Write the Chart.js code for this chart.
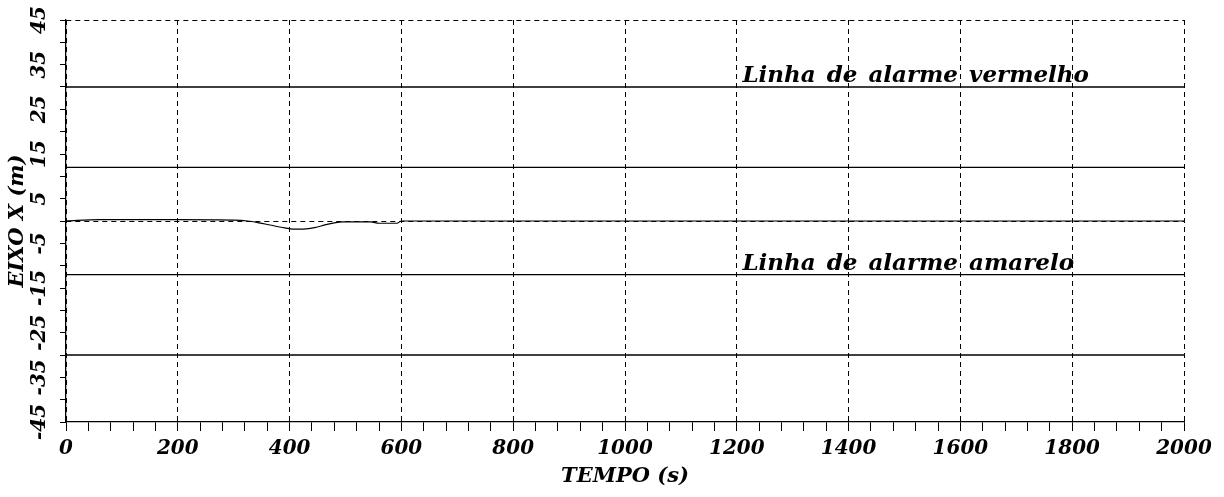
<!DOCTYPE html>
<html><head><meta charset="utf-8">
<script src="https://cdn.jsdelivr.net/npm/chart.js@4/dist/chart.umd.min.js"></script>
<style>html,body{margin:0;padding:0;background:#fff;}#wrap{width:1224px;height:497px;}</style>
</head><body><div id="wrap"><canvas id="c" width="1224" height="497"></canvas></div>
<script>
// ---- data ----
const tempo = [0, 60, 100, 200, 300, 325, 345, 365, 385, 405, 425, 445, 465, 480, 495, 520, 545, 560, 580, 592, 600, 650, 800, 1000, 1200, 1400, 1600, 1800, 2000];
const eixoX = [0, 0.3, 0.3, 0.3, 0.2, 0.0, -0.4, -0.9, -1.4, -1.8, -1.8, -1.5, -0.8, -0.4, -0.2, -0.2, -0.2, -0.5, -0.5, -0.5, 0.0, 0.0, 0.0, 0.0, 0.0, 0.0, 0.0, 0.0, 0.0];
const limiteTempo = [0, 2000];
const alarmeVermelho = [30, -30];
const alarmeAmarelo = [12, -12];
const ticksTempo = [0, 200, 400, 600, 800, 1000, 1200, 1400, 1600, 1800, 2000];
const ticksEixo = [-45, -35, -25, -15, -5, 5, 15, 25, 35, 45];
const rotuloVermelho = 'Linha de alarme vermelho';
const rotuloAmarelo = 'Linha de alarme amarelo';
const posRotulo = 1210;

const FONT = "'DejaVu Serif', serif";
const black = '#000';

const lineDs = (yv) => ({
  data: limiteTempo.map(t => ({x: t, y: yv})),
  borderColor: black, borderWidth: 1.3, pointRadius: 0, fill: false
});

const datasets = [
  {
    data: tempo.map((t, i) => ({x: t, y: eixoX[i]})),
    borderColor: black, borderWidth: 1.2, pointRadius: 0, fill: false,
    cubicInterpolationMode: 'monotone'
  },
  ...alarmeVermelho.map(lineDs),
  ...alarmeAmarelo.map(lineDs)
];

const textPlugin = {
  id: 'rotulos',
  afterDatasetsDraw(chart) {
    const {ctx, scales: {x, y}} = chart;
    ctx.save();
    ctx.font = "italic bold 23px " + FONT;
    ctx.fillStyle = black;
    ctx.textBaseline = 'alphabetic';
    ctx.textAlign = 'left';
    try { ctx.wordSpacing = '3px'; } catch (e) {}
    ctx.fillText(rotuloVermelho, x.getPixelForValue(posRotulo), y.getPixelForValue(alarmeVermelho[0]) - 5);
    ctx.fillText(rotuloAmarelo, x.getPixelForValue(posRotulo), y.getPixelForValue(alarmeAmarelo[1]) - 5);
    ctx.restore();
  }
};

new Chart(document.getElementById('c'), {
  type: 'line',
  data: {datasets},
  options: {
    responsive: false, animation: false, devicePixelRatio: 1,
    layout: {padding: {left: 0, right: 40, top: 20, bottom: 4}},
    plugins: {legend: {display: false}, tooltip: {enabled: false}},
    scales: {
      x: {
        type: 'linear', min: 0, max: 2000,
        afterFit: s => { s.height = 71; },
        ticks: {
          stepSize: 40, autoSkip: false, maxRotation: 0, minRotation: 0,
          color: black, padding: 6,
          font: {family: FONT, size: 20, style: 'italic', weight: 'bold'},
          callback: v => ticksTempo.includes(v) ? String(v) : ''
        },
        grid: {
          color: c => (c.tick && ticksTempo.includes(c.tick.value)) ? black : 'rgba(0,0,0,0)',
          lineWidth: 1, tickColor: black, tickLength: 9, drawTicks: true
        },
        border: {display: true, color: black, width: 1.3, dash: [5, 4]},
        title: {
          display: true, text: 'TEMPO (s)', color: black,
          font: {family: FONT, size: 21, style: 'italic', weight: 'bold'},
          padding: {top: 0, bottom: 4}
        }
      },
      y: {
        type: 'linear', min: -45, max: 45,
        afterFit: s => { s.width = 66; },
        ticks: {
          stepSize: 5, autoSkip: false, minRotation: 90, maxRotation: 90,
          crossAlign: 'center', color: black, padding: 2,
          font: {family: FONT, size: 20, style: 'italic', weight: 'bold'},
          callback: v => ticksEixo.includes(v) ? String(v) : ''
        },
        grid: {
          color: c => (c.tick && (c.tick.value === 45 || c.tick.value === 0)) ? black : 'rgba(0,0,0,0)',
          lineWidth: 1, tickColor: black, tickLength: 6, drawTicks: true
        },
        border: {display: true, color: black, width: 1.3, dash: [5, 4]},
        title: {
          display: true, text: 'EIXO X (m)', color: black,
          font: {family: FONT, size: 21, style: 'italic', weight: 'bold'},
          padding: {top: 5, bottom: 0}
        }
      }
    }
  },
  plugins: [textPlugin]
});
</script>
</body></html>
